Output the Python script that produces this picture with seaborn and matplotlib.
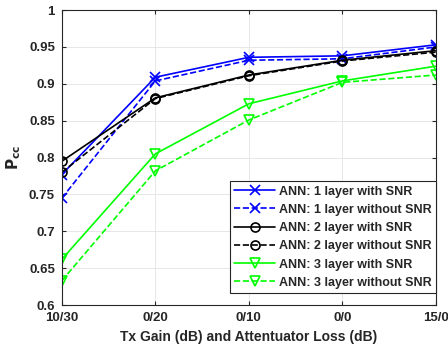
import pandas as pd
import matplotlib
matplotlib.use('Agg')
import matplotlib.pyplot as plt
import seaborn as sns

# Данные
categories = ['10/30', '0/20', '0/10', '0/0', '15/0']
y_ticks = [0.6, 0.65, 0.7, 0.75, 0.8, 0.85, 0.9, 0.95, 1.0]
y_ticklabels = ['0.6', '0.65', '0.7', '0.75', '0.8', '0.85', '0.9', '0.95', '1']
ann1_snr = [0.777, 0.909, 0.936, 0.938, 0.953]
ann1_nosnr = [0.745, 0.904, 0.932, 0.934, 0.950]
ann2_snr = [0.795, 0.881, 0.912, 0.932, 0.945]
ann2_nosnr = [0.780, 0.880, 0.911, 0.931, 0.943]
ann3_snr = [0.662, 0.805, 0.873, 0.904, 0.924]
ann3_nosnr = [0.633, 0.782, 0.851, 0.902, 0.912]

series = {
    'ANN: 1 layer with SNR': ann1_snr,
    'ANN: 1 layer without SNR': ann1_nosnr,
    'ANN: 2 layer with SNR': ann2_snr,
    'ANN: 2 layer without SNR': ann2_nosnr,
    'ANN: 3 layer with SNR': ann3_snr,
    'ANN: 3 layer without SNR': ann3_nosnr,
}

styles = {
    'ANN: 1 layer with SNR': ('#0000ff', 'x', '-'),
    'ANN: 1 layer without SNR': ('#0000ff', 'x', '--'),
    'ANN: 2 layer with SNR': ('#000000', 'o', '-'),
    'ANN: 2 layer without SNR': ('#000000', 'o', '--'),
    'ANN: 3 layer with SNR': ('#00ff00', 'v', '-'),
    'ANN: 3 layer without SNR': ('#00ff00', 'v', '--'),
}

rows = []
for name, vals in series.items():
    for i, v in enumerate(vals):
        rows.append({'pos': i, 'series': name, 'value': v})
df = pd.DataFrame(rows)

sns.set_style('white')
plt.rcParams['font.family'] = ['Liberation Sans', 'DejaVu Sans']
plt.rcParams['font.weight'] = 'bold'

fig, ax = plt.subplots(figsize=(4.48, 3.49), dpi=100)

for name in series:
    color, marker, ls = styles[name]
    sub = df[df['series'] == name]
    sns.lineplot(
        data=sub, x='pos', y='value', ax=ax,
        color=color, linestyle=ls, linewidth=1.2,
        marker=marker, markersize=6.5,
        markerfacecolor='none' if marker != 'x' else color,
        markeredgecolor=color, markeredgewidth=1.2,
        label=name,
    )

ax.set_xlim(0, len(categories) - 1)
ax.set_ylim(0.6, 1.0)
ax.set_xticks(range(len(categories)))
ax.set_xticklabels(categories)
ax.set_yticks(y_ticks)
ax.set_yticklabels(y_ticklabels)

ax.grid(True, color='#e3e3e3', linewidth=0.6)
ax.set_axisbelow(True)

for spine in ax.spines.values():
    spine.set_visible(True)
    spine.set_color('#262626')
    spine.set_linewidth(0.8)

ax.tick_params(axis='both', which='major', direction='in', length=3,
               top=True, right=True, bottom=True, left=True,
               labelsize=9.5, colors='#262626', pad=5)
for lbl in ax.get_xticklabels() + ax.get_yticklabels():
    lbl.set_fontweight('bold')

ax.set_xlabel('Tx Gain (dB) and Attentuator Loss (dB)', fontsize=10,
              fontweight='bold', color='#262626')
ax.set_ylabel(r'$\mathbf{P_{cc}}$', fontsize=11, color='#262626')

leg = ax.legend(loc='lower right', bbox_to_anchor=(1.0, 0.04),
                fontsize=9, frameon=True, fancybox=False,
                edgecolor='#262626', framealpha=1, borderpad=0.35,
                labelspacing=0.5, handlelength=3.3, handletextpad=0.3,
                borderaxespad=0)
leg.get_frame().set_linewidth(0.8)
for t in leg.get_texts():
    t.set_fontweight('bold')

fig.subplots_adjust(left=0.138, right=0.973, top=0.971, bottom=0.126)
fig.savefig('out.png', dpi=100, facecolor='white')
